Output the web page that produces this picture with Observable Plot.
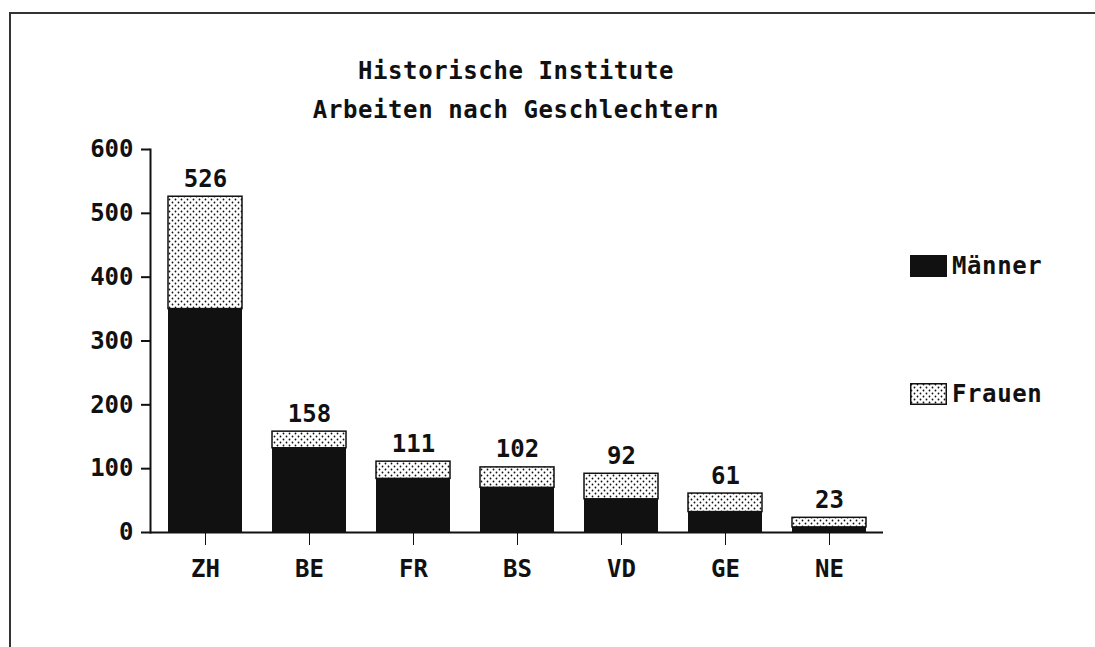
<!DOCTYPE html>
<html>
<head>
<meta charset="utf-8">
<script src="https://cdn.jsdelivr.net/npm/d3@7"></script>
<script src="https://cdn.jsdelivr.net/npm/@observablehq/plot@0.6"></script>
<style>
  html, body { margin: 0; padding: 0; background: #fff; overflow: hidden; }
  #page { position: relative; width: 1095px; height: 647px; overflow: hidden; background: #fff;
          font-family: "DejaVu Sans Mono", monospace; color: #111; }
  #lineTop { position: absolute; left: 9px; top: 12px; width: 1086px; height: 2px; background: #333; }
  #lineLeft { position: absolute; left: 9px; top: 12px; width: 2px; height: 635px; background: #333; }
  .title { position: absolute; left: 0; width: 1032px; text-align: center; font-size: 24px; letter-spacing: 0.6px; font-weight: bold; }
  #chart { position: absolute; left: 0; top: 0; }
  .leg { position: absolute; font-size: 24px; display: flex; align-items: center; letter-spacing: 0.6px; font-weight: bold; }
  .sw { width: 37px; height: 22px; margin-right: 5px; box-sizing: border-box; }
  #chart text { font-weight: bold; }
</style>
</head>
<body>
<div id="page">
  <div id="lineTop"></div>
  <div id="lineLeft"></div>
  <div id="chart"></div>
  <div class="title" style="top:57px">Historische Institute</div>
  <div class="title" style="top:96px">Arbeiten nach Geschlechtern</div>
  <div class="leg" style="left:910px; top:252px"><div class="sw" style="background:#111"></div><span>Männer</span></div>
  <div class="leg" style="left:910px; top:380px"><svg class="sw" width="37" height="22"><defs><pattern id="dotsL" width="6" height="6" patternUnits="userSpaceOnUse"><rect width="6" height="6" fill="#fff"/><circle cx="1.5" cy="1.5" r="0.9" fill="#111"/><circle cx="4.5" cy="4.5" r="0.9" fill="#111"/></pattern></defs><rect x="0.75" y="0.75" width="35.5" height="20.5" fill="url(#dotsL)" stroke="#111" stroke-width="1.5"/></svg><span>Frauen</span></div>
</div>
<script>
const categories = ["ZH", "BE", "FR", "BS", "VD", "GE", "NE"];
const totals  = [526, 158, 111, 102, 92, 61, 23];
const maenner = [350, 132, 84, 70, 52, 32, 8];
const frauen  = [176, 26, 27, 32, 40, 29, 15];
const yTicks  = [0, 100, 200, 300, 400, 500, 600];

const rows = categories.map((k, i) => ({k, m: maenner[i], f: frauen[i], t: maenner[i] + frauen[i], label: String(totals[i])}));

const chart = Plot.plot({
  width: 1095,
  height: 647,
  marginLeft: 150,
  marginRight: 212,
  marginTop: 149,
  marginBottom: 115,
  x: {domain: categories, paddingInner: 0.29, paddingOuter: 0.15, axis: null, label: null},
  y: {domain: [0, 600], axis: null, label: null},
  style: {fontFamily: "DejaVu Sans Mono, monospace", fontSize: "24px", background: "transparent", color: "#111"},
  marks: [
    Plot.barY(rows, {x: "k", y1: 0, y2: "m", fill: "#111"}),
    Plot.barY(rows, {x: "k", y1: "m", y2: "t", fill: "url(#dots)", stroke: "#111", strokeWidth: 1.5}),
    Plot.text(rows, {x: "k", y: "t", text: "label", dy: -10, lineAnchor: "bottom", fill: "#111"}),
    Plot.axisY(yTicks, {tickSize: 9, tickPadding: 8, strokeWidth: 2, stroke: "#111", fill: "#111", tickFormat: d => String(d), fontSize: 24, label: null}),
    Plot.axisX({tickSize: 13, tickPadding: 14, strokeWidth: 1, stroke: "#111", fill: "#111", fontSize: 24, label: null}),
    Plot.ruleY([0], {stroke: "#111", strokeWidth: 2}),
    Plot.frame({anchor: "left", stroke: "#111", strokeWidth: 2})
  ]
});

// dot pattern for "Frauen"
const ns = "http://www.w3.org/2000/svg";
const defs = document.createElementNS(ns, "defs");
defs.innerHTML = '<pattern id="dots" width="6" height="6" patternUnits="userSpaceOnUse"><rect width="6" height="6" fill="#fff"/><circle cx="1.5" cy="1.5" r="0.9" fill="#111"/><circle cx="4.5" cy="4.5" r="0.9" fill="#111"/></pattern>';
chart.insertBefore(defs, chart.firstChild);
document.getElementById("chart").appendChild(chart);
</script>
</body>
</html>
